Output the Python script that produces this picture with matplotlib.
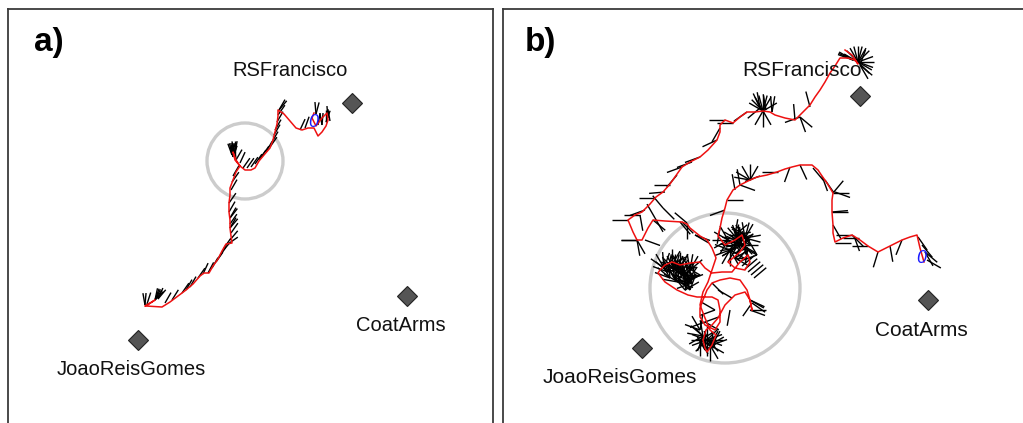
import matplotlib
matplotlib.use("Agg")
import matplotlib.pyplot as plt
from matplotlib.collections import LineCollection
from matplotlib.patches import Circle
import numpy as np

plt.rcParams['font.family'] = ['Liberation Sans', 'DejaVu Sans']

# ---------------- data (image pixel coordinates) ----------------
LANDMARKS = ["RSFrancisco", "CoatArms", "JoaoReisGomes"]

# panel a
A_LM_X = [352, 407, 138]
A_LM_Y = [103, 296, 340]
A_LBL_X = [290, 401, 131]
A_LBL_Y = [70, 325, 369]
A_PATH_X = [145, 155, 146, 162, 170, 178, 186, 193, 200, 204, 209, 213, 218, 222, 226, 232, 231, 230, 230,
            229, 229, 230, 230, 233, 236, 240, 236, 233, 235, 240, 245, 251, 255, 259, 264, 270, 273, 275,
            277, 278, 278, 284, 290, 296, 302, 308, 314, 318, 322, 326, 328, 327, 322, 316, 312, 314]
A_PATH_Y = [306, 300, 306, 307, 302, 296, 290, 284, 276, 273, 273, 266, 259, 251, 244, 243, 236, 228, 220,
            212, 203, 195, 188, 180, 172, 166, 160, 152, 160, 166, 170, 170, 168, 161, 155, 148, 140, 132,
            124, 116, 110, 114, 121, 128, 130, 128, 128, 136, 132, 126, 120, 113, 118, 126, 118, 113]
A_TICK_X = [145, 147, 155, 165, 172, 182, 190, 198, 203, 212, 216, 219, 222, 224, 228, 230, 231, 230, 230,
            230, 229, 229, 231, 232, 233, 232, 233, 236, 240, 243, 247, 251, 255, 259, 262, 266, 270, 272,
            274, 275, 277, 278, 279, 300, 305, 316, 318, 322, 326, 328, 330, 186, 208, 158, 235]
A_TICK_Y = [305, 304, 300, 303, 300, 293, 287, 278, 274, 268, 262, 257, 252, 248, 244, 240, 233, 228, 224,
            218, 212, 203, 190, 182, 176, 155, 157, 160, 163, 168, 168, 167, 164, 160, 156, 152, 147, 142,
            135, 130, 122, 115, 110, 130, 128, 114, 125, 125, 122, 118, 121, 290, 273, 299, 153]
A_TICK_ANG = [[85, 100], [72], [45, 55, 63, 70, 78], [60], [58], [55], [60], [55], [65], [60], [55], [55],
              [50], [55], [35], [50], [55], [60, 50], [55], [60, 52], [60], [55], [60], [55], [60],
              [80, 88, 95, 102, 110, 75], [85, 98, 70], [60, 95], [65], [55], [55], [55], [55], [55], [55],
              [60], [55], [60], [60], [60], [60], [55], [50, 60], [65], [70], [75, 95], [80], [85, 100],
              [90, 70], [95], [100], [60], [62], [50, 66], [90, 80, 105]]

# panel b
B_LM_X = [860, 928, 642]
B_LM_Y = [96, 300, 348]
B_LBL_X = [802, 921, 620]
B_LBL_Y = [70, 330, 377]
B_PATH_X = [924, 920, 917, 910, 902, 890, 878, 868, 860, 852, 843, 835, 833, 833, 832, 832, 833, 830, 827,
            822, 818, 812, 800, 792, 785, 777, 767, 757, 748, 740, 733, 730, 727, 725, 722, 720, 718, 725,
            735, 742, 745, 740, 733, 728, 735, 745, 750, 748, 740, 732, 722, 712, 705, 700, 690, 680, 672,
            665, 660, 658, 665, 677, 688, 697, 705, 712, 718, 720, 720, 715, 705, 700, 700, 703, 707, 712,
            720, 730, 740, 747, 750, 752, 750, 745, 735, 725, 718, 712, 706, 703, 705, 707, 712, 716, 710,
            705, 700, 703, 708, 712, 716, 712, 707, 700, 695, 690, 687, 682, 665, 653, 648, 642, 637, 633,
            628, 635, 642, 650, 656, 663, 670, 677, 682, 690, 700, 708, 717, 720, 720, 725, 733, 740, 747,
            755, 763, 770, 775, 785, 795, 803, 810, 815, 820, 825, 830, 835, 840, 848, 855, 858, 852, 845]
B_PATH_Y = [262, 248, 235, 237, 240, 246, 252, 246, 240, 235, 238, 242, 233, 225, 212, 200, 193, 188, 183,
            176, 170, 165, 165, 167, 169, 172, 175, 177, 181, 185, 190, 195, 200, 208, 218, 228, 236, 245,
            240, 235, 245, 252, 258, 262, 268, 270, 262, 255, 262, 272, 272, 273, 268, 262, 263, 265, 262,
            265, 270, 273, 282, 290, 295, 297, 297, 297, 300, 310, 322, 330, 325, 317, 308, 300, 290, 283,
            280, 278, 280, 290, 300, 310, 300, 292, 295, 305, 318, 325, 330, 340, 348, 352, 345, 335, 330,
            318, 305, 292, 282, 270, 258, 248, 240, 236, 232, 228, 224, 222, 221, 220, 228, 240, 240, 232,
            220, 215, 212, 204, 197, 192, 184, 174, 167, 162, 157, 150, 140, 132, 125, 120, 123, 117, 112,
            112, 111, 112, 115, 118, 120, 112, 105, 97, 90, 82, 73, 66, 58, 58, 60, 64, 55, 50]
B_TICK_X = [918, 922, 925, 927, 902, 878, 852, 854, 835, 832, 833, 835, 813, 825, 800, 778, 740, 735, 727,
            725, 720, 738, 742, 745, 736, 741, 742, 745, 748, 751, 754, 675, 682, 688, 678, 690, 670, 707,
            703, 710, 700, 750, 752, 750, 637, 645, 655, 663, 682, 695, 687, 858, 853, 860, 795, 810, 772,
            763, 760, 747, 733, 725, 720, 717, 700, 692, 682, 677, 670, 665, 655, 645, 640, 628, 637, 653,
            680, 718, 712, 730,
            890, 868, 843, 833, 822, 790, 760, 750, 672, 685, 695, 735, 748, 730, 705, 712, 766, 800,
            757, 690, 664,
            668, 680, 692, 685, 700, 675, 745, 735, 750, 728, 700, 712, 705, 715, 705]
B_TICK_Y = [237, 245, 252, 260, 240, 252, 235, 236, 243, 212, 193, 192, 168, 180, 165, 172, 185, 190, 200,
            210, 228, 240, 245, 238, 248, 243, 266, 269, 272, 275, 278, 270, 275, 280, 282, 270, 278, 340,
            336, 345, 330, 300, 303, 310, 240, 240, 218, 208, 222, 235, 223, 62, 60, 65, 120, 107, 112,
            111, 108, 112, 123, 120, 128, 140, 157, 162, 167, 175, 185, 192, 198, 210, 215, 220, 240, 220,
            222, 290, 283, 310,
            246, 246, 238, 225, 176, 167, 176, 180, 265, 285, 278, 235, 248, 250, 350, 332, 110, 117,
            255, 290, 268,
            272, 268, 283, 290, 275, 280, 235, 258, 245, 240, 340, 345, 322, 310, 305]
B_TICK_ANG = [[-55], [-50], [-40, -60], [-30], [-112], [-107], [180, -45], [-70], [0], [0, 5], [0, 50],
              [-20], [-50], [-55], [-65], [180], [-20, 100], [100], [0], [-160], [-100],
              [90, 110, 130, 150, 170, 200, 230, 20], [120, 140, 160, 180, -30, -60, 45, 0],
              [60, 75, 100, 125, 145, 10, -15, -90], [135, 165, 190, 210, -120, -150, 30],
              [95, 115, 155, 175, 195, 215, 250, -45],
              [40], [40], [40], [40], [40],
              [45, 60, 75, 90, 105, 120, 135, 150], [50, 70, 85, 100, 115, 130, 145, 30],
              [55, 80, 95, 110, 140, 160, 20], [65, 90, 125, 150, 170, -20], [40, 60, 80, 100, 120],
              [95, 120, 140, 160],
              [0, 45, 90, 135, 180, 225, 270, 315, 20, 160, 200, -20], [100, 140, 170, 210, 250],
              [-30, -60, 30, 60, -90], [120, 80, 160],
              [-30, -25], [-125, -35], [0, -20],
              [-80, 180], [-20], [-60, 120], [-45, 130], [-45], [-30, -20], [-90, 140],
              [45, 60, 75, 90, 105, 120, 135, 150, 155, 20, 0, -20, -30, -45],
              [150, 155, 160], [-40, -60, 70],
              [95], [105], [95, 80],
              [60, 75, 90, 105, 120, 135, 150, -60, -90, -120, 30], [100, 115, 220],
              [215], [180], [180], [240], [205], [200], [200], [200], [230], [180], [185], [180], [200],
              [180, -80], [180], [180, -60], [-40], [-50], [-30], [-45],
              [-100], [-80], [180], [0], [-60], [-70], [-110], [200],
              [60, 90, 120, 150, 170], [30, 60, 90, -30], [100, 130, 45],
              [100, 130, 160, 190], [10, 40, -20, -50, 80], [160, 200, 230, 260],
              [200, 240, 270, 300, -30, 160], [30, 60, 90, 120], [-80], [100],
              [-40, -70, 200], [120, 150, 200], [70, 110, 140],
              [45, 70, 95, 120, 145, -20], [50, 80, 110, 140, 160, 20], [60, 90, 120, -45, -60],
              [100, 140, 170, 200], [30, 60, 90, 130], [150, 180, 200, -150],
              [80, 100, 120, 60, 30], [150, 180, 210, 240], [0, 30, -30, 60], [120, 150, 180],
              [150, 180, 210, 240, 120], [0, -30, -60, 30, -90], [60, 120, 160, 20],
              [-30, 20, 200], [150, 200]]

# ---------------- drawing ----------------
W, H = 1023, 423
fig = plt.figure(figsize=(W / 100, H / 100), dpi=100)
FRAME = '#3a3a3a'


def make_axes(left, right, top, bottom):
    ax = fig.add_axes([left / W, (H - bottom) / H, (right - left) / W, (bottom - top) / H])
    ax.set_xlim(left, right)
    ax.set_ylim(bottom, top)
    ax.set_xticks([])
    ax.set_yticks([])
    for s in ax.spines.values():
        s.set_color(FRAME)
        s.set_linewidth(1.3)
    return ax


def tick_segments(xs, ys, angs, length):
    segs = []
    for x, y, al in zip(xs, ys, angs):
        for a in al:
            r = np.deg2rad(a)
            segs.append([(x, y), (x + length * np.cos(r), y - length * np.sin(r))])
    return segs


def draw_panel(ax, tag, tag_x, lm_x, lm_y, lbl_x, lbl_y, px, py, tx, ty, ta, tlen, circ, start, fs):
    ax.add_patch(Circle(circ[:2], circ[2], fill=False, ec='#cccccc', lw=2.4, zorder=1))
    ax.add_collection(LineCollection(tick_segments(tx, ty, ta, tlen), colors='black', linewidths=1.0,
                                     zorder=2))
    ax.plot(px, py, color='#ee1111', lw=1.1, zorder=3)
    ax.plot(lm_x, lm_y, linestyle='none', marker='D', ms=10, mfc='#555555', mec='#222222', mew=0.8,
            zorder=4)
    for name, x, y in zip(LANDMARKS, lbl_x, lbl_y):
        ax.text(x, y, name, ha='center', va='center', fontsize=fs, color='#111111', zorder=5)
    ax.text(start[0], start[1], '0', ha='center', va='center', fontsize=13, color='#1a1aff',
            style='italic', zorder=6)
    ax.text(tag_x, 42, tag, ha='left', va='center', fontsize=24, fontweight='bold', color='black')


ax_a = make_axes(8, 493, 9, 445)
draw_panel(ax_a, 'a)', 34, A_LM_X, A_LM_Y, A_LBL_X, A_LBL_Y, A_PATH_X, A_PATH_Y,
           A_TICK_X, A_TICK_Y, A_TICK_ANG, 12, (245, 161, 38), (313, 122), 14.5)

ax_b = make_axes(503, 1045, 9, 445)
draw_panel(ax_b, 'b)', 525, B_LM_X, B_LM_Y, B_LBL_X, B_LBL_Y, B_PATH_X, B_PATH_Y,
           B_TICK_X, B_TICK_Y, B_TICK_ANG, 16, (725, 288, 75), (921, 258), 15)

fig.savefig('out.png', dpi=100)
